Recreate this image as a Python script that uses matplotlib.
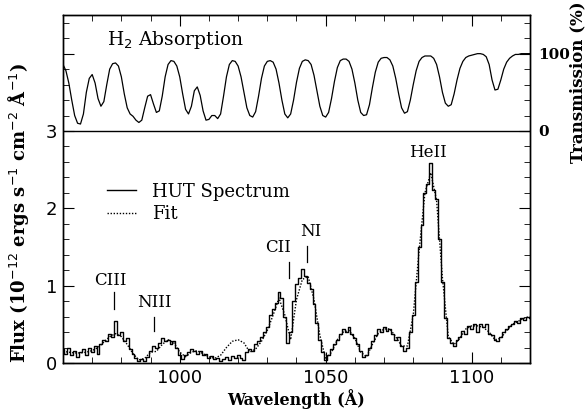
"""HUT far-UV spectrum with H2 absorption (transmission) panel above."""

import matplotlib as mpl
import matplotlib.pyplot as plt
import numpy as np
from matplotlib.ticker import MultipleLocator, FixedLocator, FixedFormatter

mpl.rcParams.update({
    "font.family": "DejaVu Serif", "font.size": 12,
    "xtick.direction": "in", "ytick.direction": "in",
    "xtick.major.size": 8, "ytick.major.size": 8,
    "xtick.minor.size": 4.5, "ytick.minor.size": 4.5,
    "axes.linewidth": 1.0,
})

# H2 transmission (%), 1 A steps from 960 to 1120 A
wave_t = np.arange(960, 1121, 1)
trans = [
    86, 78, 62, 40, 20, 10, 9, 22, 50, 68,            # 960-969
    73, 62, 42, 32, 38, 60, 80, 87, 88, 84,           # 970-979
    70, 48, 30, 22, 19, 14, 11, 14, 30, 45,           # 980-989
    47, 35, 24, 26, 45, 70, 86, 91, 90, 84,           # 990-999
    70, 48, 28, 22, 32, 52, 57, 46, 26, 14,           # 1000-1009
    15, 20, 20, 16, 22, 45, 70, 86, 91, 90,           # 1010-1019
    84, 70, 50, 30, 20, 18, 25, 45, 68, 84,           # 1020-1029
    90, 91, 89, 80, 62, 40, 22, 17, 22, 40,           # 1030-1039
    63, 81, 90, 92, 91, 86, 72, 52, 32, 20,           # 1040-1049
    18, 24, 42, 64, 82, 91, 93, 93, 90, 80,           # 1050-1059
    62, 40, 24, 20, 21, 34, 56, 76, 89, 94,           # 1060-1069
    95, 95, 92, 84, 68, 48, 30, 23, 25, 40,           # 1070-1079
    60, 78, 90, 95, 97, 97, 97, 94, 86, 70,           # 1080-1089
    50, 36, 32, 34, 48, 66, 81, 90, 95, 97,           # 1090-1099
    98, 99, 100, 100, 99, 96, 86, 66, 53, 54,         # 1100-1109
    66, 80, 89, 94, 97, 99, 99, 100, 100, 100,        # 1110-1119
    100,                                              # 1120
]

# HUT spectrum flux (1e-12 erg/s/cm2/A), 1 A steps
wave_s = np.arange(960, 1121, 1)
flux = [
    0.18, 0.12, 0.20, 0.10, 0.16, 0.08, 0.14, 0.18, 0.10, 0.20,   # 960
    0.14, 0.22, 0.12, 0.24, 0.30, 0.28, 0.38, 0.34, 0.54, 0.36,   # 970
    0.40, 0.28, 0.32, 0.18, 0.12, 0.06, 0.03, 0.05, 0.02, 0.08,   # 980
    0.16, 0.22, 0.20, 0.26, 0.32, 0.28, 0.30, 0.24, 0.28, 0.20,   # 990
    0.10, 0.05, 0.10, 0.14, 0.18, 0.16, 0.12, 0.15, 0.10, 0.12,   # 1000
    0.06, 0.09, 0.05, 0.07, 0.03, 0.05, 0.08, 0.04, 0.09, 0.07,   # 1010
    0.10, 0.06, 0.04, 0.14, 0.18, 0.16, 0.24, 0.28, 0.34, 0.40,   # 1020
    0.46, 0.62, 0.70, 0.78, 0.92, 0.84, 0.60, 0.26, 0.40, 0.80,   # 1030
    1.02, 1.10, 1.22, 1.12, 1.04, 0.96, 0.76, 0.52, 0.30, 0.14,   # 1040
    0.04, 0.10, 0.18, 0.24, 0.30, 0.38, 0.44, 0.40, 0.46, 0.38,   # 1050
    0.32, 0.24, 0.16, 0.08, 0.10, 0.20, 0.28, 0.36, 0.44, 0.40,   # 1060
    0.46, 0.42, 0.44, 0.38, 0.30, 0.34, 0.22, 0.16, 0.20, 0.40,   # 1070
    0.62, 1.05, 1.50, 1.78, 2.20, 2.32, 2.58, 2.24, 2.12, 1.60,   # 1080
    1.05, 0.58, 0.32, 0.26, 0.22, 0.30, 0.34, 0.42, 0.38, 0.48,   # 1090
    0.44, 0.50, 0.40, 0.50, 0.46, 0.50, 0.38, 0.36, 0.30, 0.28,   # 1100
    0.34, 0.40, 0.44, 0.48, 0.50, 0.54, 0.52, 0.58, 0.56, 0.60,   # 1110
    0.58,                                                         # 1120
]

# model fit, 2 A steps
wave_f = np.arange(960, 1121, 2)
fit = [
    0.15, 0.14, 0.13, 0.13, 0.14, 0.16, 0.20, 0.27, 0.34, 0.38,   # 960-978
    0.34, 0.24, 0.12, 0.04, 0.06, 0.14, 0.15, 0.24, 0.30, 0.26,   # 980-998
    0.14, 0.08, 0.14, 0.16, 0.12, 0.08, 0.06, 0.10, 0.20, 0.28,   # 1000-1018
    0.30, 0.26, 0.14, 0.18, 0.28, 0.42, 0.62, 0.84, 0.62, 0.30,   # 1020-1038
    0.82, 1.08, 1.12, 0.82, 0.36, 0.05, 0.14, 0.30, 0.40, 0.42,   # 1040-1058
    0.32, 0.14, 0.08, 0.24, 0.38, 0.44, 0.44, 0.34, 0.22, 0.22,   # 1060-1078
    0.62, 1.45, 2.20, 2.46, 2.10, 1.10, 0.34, 0.24, 0.32, 0.44,   # 1080-1098
    0.48, 0.48, 0.46, 0.40, 0.30, 0.32, 0.42, 0.50, 0.54, 0.58,   # 1100-1118
    0.60,                                                         # 1120
]

# line identifications: label, text position, tick position and extent
line_ids = ["CIII", "NIII", "CII", "NI", "HeII"]
id_text_wave = [976.1, 991.2, 1033.6, 1045.0, 1085.0]
id_text_flux = [1.07, 0.78, 1.49, 1.70, 2.72]
id_tick_wave = [977.5, 991.3, 1037.4, 1043.5, None]
id_tick_lo = [0.70, 0.41, 1.10, 1.31, None]
id_tick_hi = [0.92, 0.60, 1.30, 1.51, None]

OFFSET = 3.0  # transmission panel drawn above flux = 3


def main():
    fig = plt.figure(figsize=(5.87, 4.13), dpi=100)
    ax = fig.add_axes([0.1073, 0.1211, 0.7956, 0.8426])

    # transmission panel
    ax.plot(wave_t, OFFSET + np.array(trans) / 100.0, color="k", lw=0.9)
    ax.axhline(OFFSET, color="k", lw=1.0)
    ax.text(975.1, 4.18, r"H$_2$ Absorption", ha="left", va="center", fontsize=13.5)

    # spectrum + fit
    ax.plot(wave_s, flux, color="k", lw=1.0, drawstyle="steps-mid", label="HUT Spectrum")
    ax.plot(wave_f, fit, color="k", lw=1.0, ls=(0, (1, 1.2)), label="Fit")

    for lab, tx, ty, kx, lo, hi in zip(line_ids, id_text_wave, id_text_flux,
                                       id_tick_wave, id_tick_lo, id_tick_hi):
        ax.text(tx, ty, lab, ha="center", va="center", fontsize=12)
        if kx is not None:
            ax.plot([kx, kx], [lo, hi], color="k", lw=0.9)

    ax.legend(loc="upper left", bbox_to_anchor=(0.06, 0.565), frameon=False,
              handlelength=1.6, handletextpad=0.9, labelspacing=0.25, fontsize=13)

    ax.set_xlim(960, 1120)
    ax.set_ylim(0, 4.5)
    ax.xaxis.set_major_locator(MultipleLocator(50))
    ax.xaxis.set_minor_locator(MultipleLocator(10))
    ax.yaxis.set_major_locator(FixedLocator([0, 1, 2, 3, 4]))
    ax.yaxis.set_major_formatter(FixedFormatter(["0", "1", "2", "3", ""]))
    ax.yaxis.set_minor_locator(MultipleLocator(0.2))
    ax.tick_params(which="both", top=True)
    ax.tick_params(labelsize=13, pad=4)
    for t in ax.get_xticklabels() + ax.get_yticklabels():
        t.set_family("DejaVu Sans")

    # right axis: transmission scale
    axr = ax.twinx()
    axr.set_ylim(0, 4.5)
    axr.yaxis.set_major_locator(FixedLocator([0, 1, 2, 3, 4]))
    axr.yaxis.set_major_formatter(FixedFormatter(["", "", "", "0", "100"]))
    axr.yaxis.set_minor_locator(MultipleLocator(0.2))
    axr.tick_params(which="both", direction="in")
    axr.tick_params(labelsize=11, pad=6)
    for t in axr.get_yticklabels():
        t.set_fontweight("bold")

    ax.set_xlabel("Wavelength (Å)", fontweight="bold", fontsize=11.5, labelpad=2)
    ax.set_ylabel(r"Flux (10$^{-12}$ ergs s$^{-1}$ cm$^{-2}$ Å$^{-1}$)",
                  fontweight="bold", fontsize=13)
    ax.yaxis.set_label_coords(-0.068, 0.43)
    fig.text(0.985, 0.80, "Transmission (%)", rotation=90, ha="center", va="center",
             fontweight="bold", fontsize=12)

    fig.savefig("out.png", dpi=100)


if __name__ == "__main__":
    main()
